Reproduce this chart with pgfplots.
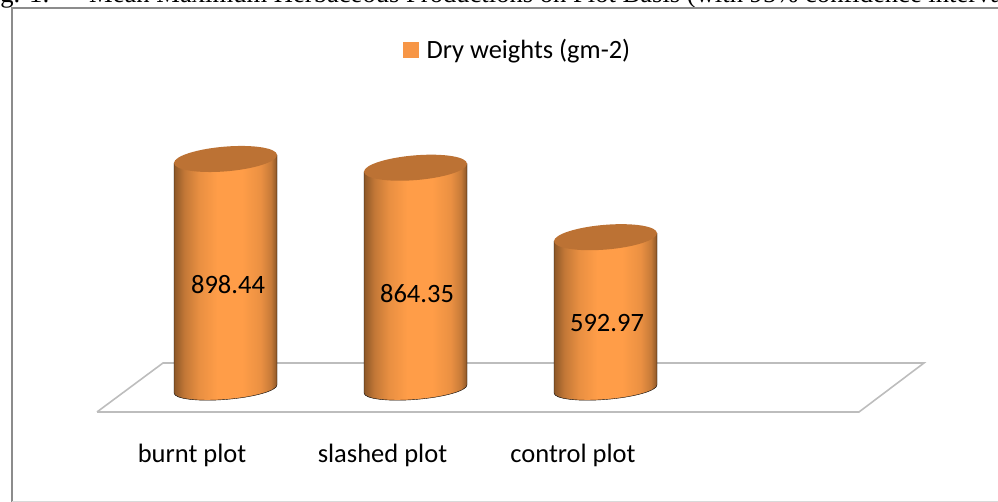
\documentclass[border=0pt]{standalone}
\usepackage{pgfplots}
\pgfplotsset{compat=1.18}
\usepackage{fontspec}
\setmainfont{Carlito}
\newfontfamily\timesf{Liberation Serif}
\definecolor{legor}{HTML}{F79646}
\definecolor{peakor}{HTML}{FF9D48}
\definecolor{capor}{HTML}{BC7234}
\definecolor{floorgr}{HTML}{BDBDBD}
\definecolor{framegr}{HTML}{8C8C8C}
\pgfdeclarehorizontalshading{cyl}{100bp}{
 color(0bp)=(black!45!peakor);
 color(25bp)=(black!45!peakor);
 color(30bp)=(black!24!peakor);
 color(37bp)=(black!9!peakor);
 color(46bp)=(peakor);
 color(58bp)=(peakor);
 color(67bp)=(black!8!peakor);
 color(72bp)=(black!22!peakor);
 color(75bp)=(black!45!peakor);
 color(100bp)=(black!45!peakor)}
\pgfdeclareplotmark{cyl}{%
 \pgfmathsetlengthmacro\cylh{\myy*0.256}%
 \path[shading=cyl] (-51.5pt,-4pt) -- (-51.5pt,-4pt-\cylh)
   .. controls (-51.5pt,-9.8pt-\cylh) and (-28.44pt,-12.71pt-\cylh) .. (0pt,-10.5pt-\cylh)
   .. controls (28.44pt,-8.29pt-\cylh) and (51.5pt,-1.8pt-\cylh) .. (51.5pt,4pt-\cylh)
   -- (51.5pt,4pt) -- cycle;
 \pgfpathellipse{\pgfpointorigin}{\pgfqpoint{51.5pt}{4pt}}{\pgfqpoint{0pt}{12.4pt}}%
 \pgfsetfillcolor{capor}\pgfusepath{fill}%
}
\begin{document}
\begin{tikzpicture}[x=1pt,y=1pt]
\path[use as bounding box] (0,0) rectangle (998,502);
\clip (0,0) rectangle (998,502);
\node[anchor=base east,font=\timesf\fontsize{26.6}{26.6}\selectfont,inner sep=0pt] at (50,499.3) {Fig. 1:};
\node[anchor=base west,font=\timesf\fontsize{26.6}{26.6}\selectfont,inner sep=0pt] at (89,499.3)
  {Mean Maximum Herbaceous Productions on Plot Basis (with 95\% confidence intervals)};
\draw[framegr,line width=2pt] (12,0) -- (12,493.5) -- (998,493.5);
\draw[black!15,line width=1pt] (12,0.5) -- (998,0.5);
\begin{axis}[
  at={(0,0)},anchor=south west,scale only axis,width=998pt,height=502pt,
  xmin=0,xmax=998,ymin=-441.4,ymax=1519.5,clip=false,
  axis line style={draw=none},
  ytick=\empty,
  xtick={192,382.5,573},
  xticklabels={burnt plot,slashed plot,control plot},
  major tick length=0pt,
  xticklabel style={anchor=base,yshift=39pt,font=\fontsize{26.5}{26.5}\selectfont},
  legend style={at={(axis cs:403,1325)},anchor=west,draw=none,fill=none,
    font=\fontsize{26.4}{26.4}\selectfont,inner sep=0pt,
    /tikz/every odd column/.append style={column sep=6pt}},
  legend cell align=left,
  after end axis/.code={
    \node[font=\fontsize{26.5}{26.5}\selectfont] at (axis cs:228,409) {898.44};
    \node[font=\fontsize{26.5}{26.5}\selectfont] at (axis cs:417,371) {864.35};
    \node[font=\fontsize{26.5}{26.5}\selectfont] at (axis cs:607,258) {592.97};
  },
]
\addlegendimage{legend image code/.code={\fill[legor] (0pt,-7.5pt) rectangle (15pt,7.5pt);}}
\addlegendentry{Dry weights (gm-2)}
% floor
\addplot[floorgr,line width=1.6pt,forget plot] coordinates {(97,-89.8) (859,-89.8) (924,101.6) (163,101.6) (97,-89.8)};
% cylinders
\addplot[scatter,only marks,mark=cyl,point meta=y,forget plot,
  scatter/use mapped color={draw=none,fill=none},
  visualization depends on={y \as \myy}]
  coordinates {(225.5,898.44) (415.5,864.35) (605.5,592.97)};
\end{axis}
\end{tikzpicture}
\end{document}
